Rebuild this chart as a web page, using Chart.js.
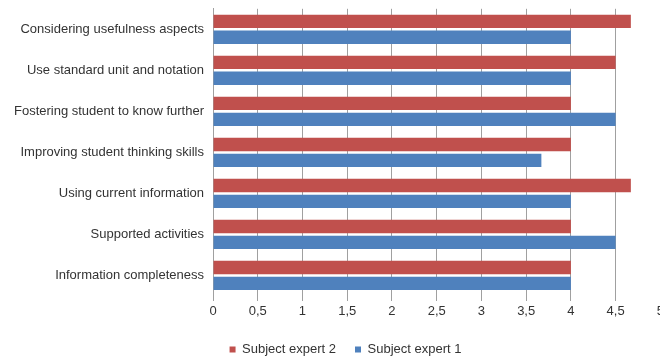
<!DOCTYPE html>
<html>
<head>
<meta charset="utf-8">
<script src="https://cdn.jsdelivr.net/npm/chart.js@4/dist/chart.umd.min.js"></script>
<style>
  html, body { margin: 0; padding: 0; background: #fff; overflow: hidden; }
  #wrap { position: relative; width: 667px; height: 356px; }
</style>
</head>
<body>
<div id="wrap"><canvas id="c"></canvas></div>
<script>
const categories = [
  'Considering usefulness aspects',
  'Use standard unit and notation',
  'Fostering student to know further',
  'Improving student thinking skills',
  'Using current information',
  'Supported activities',
  'Information completeness'
];
const expert2 = [4.67, 4.5, 4, 4, 4.67, 4, 4];
const expert1 = [4, 4, 4.5, 3.67, 4, 4.5, 4];
const seriesNames = ['Subject expert 2', 'Subject expert 1'];
const xMin = 0, xMax = 5, xStep = 0.5;

const font = { family: '"Liberation Sans", Arial, sans-serif', size: 13 };
const textColor = '#333333';
const gridColor = '#a0a0a0';

// nudge the legend to the right of the canvas centre
const legendShift = {
  id: 'legendShift',
  afterLayout(chart) {
    const lg = chart.legend;
    if (lg) { lg.left += 12; lg.right += 12; }
  }
};

new Chart(document.getElementById('c'), {
  type: 'bar',
  data: {
    labels: categories,
    datasets: [
      { label: seriesNames[0], data: expert2, backgroundColor: '#C0504D' },
      { label: seriesNames[1], data: expert1, backgroundColor: '#4F81BD' }
    ]
  },
  options: {
    indexAxis: 'y',
    responsive: true,
    maintainAspectRatio: false,
    animation: false,
    layout: { padding: { top: -1, left: 0, right: 0, bottom: -10 } },
    datasets: { bar: { barPercentage: 0.84, categoryPercentage: 0.775 } },
    scales: {
      x: {
        min: xMin, max: xMax,
        ticks: {
          stepSize: xStep, color: textColor, font: font, padding: 3,
          callback: v => String(v).replace('.', ',')
        },
        grid: { color: gridColor, lineWidth: 1, tickLength: 5, drawTicks: true },
        border: { display: false },
        afterFit: s => { s.height = 28; }
      },
      y: {
        ticks: { color: textColor, font: font, padding: 1 },
        grid: { display: false },
        border: { display: true, color: gridColor },
        afterFit: s => { s.width = 213; }
      }
    },
    plugins: {
      legend: {
        position: 'bottom',
        labels: { color: textColor, font: font, boxWidth: 6, boxHeight: 6, padding: 19 }
      },
      tooltip: { enabled: false }
    }
  },
  plugins: [legendShift]
});
</script>
</body>
</html>
